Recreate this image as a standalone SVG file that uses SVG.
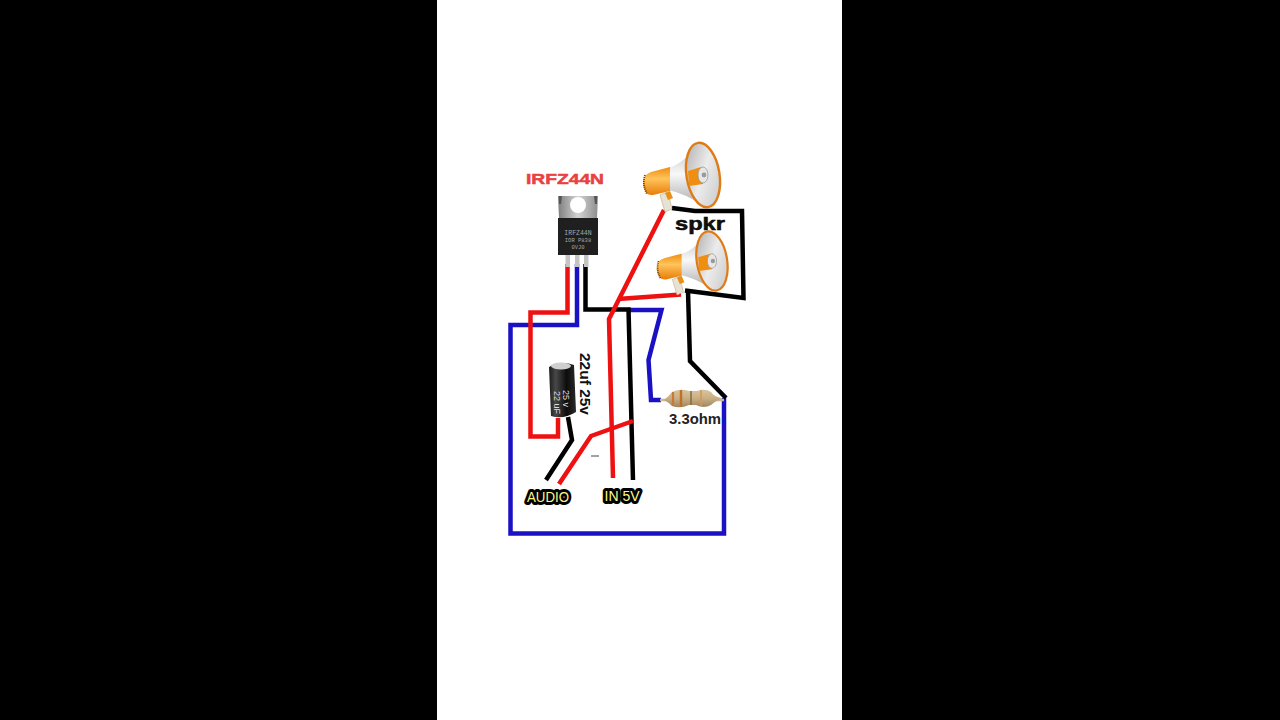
<svg xmlns="http://www.w3.org/2000/svg" width="1280" height="720" viewBox="0 0 1280 720">
<style>
.w{fill:none;stroke-linejoin:miter;stroke-linecap:butt}
.r{stroke:#ee1111;stroke-width:4.5}
.b{stroke:#1a10c4;stroke-width:4.5}
.k{stroke:#000;stroke-width:4.5}
.t{font-family:"Liberation Sans",Arial,sans-serif;font-weight:bold;fill:#111}
.lab{font-family:"Liberation Sans",Arial,sans-serif;font-size:14px;fill:#fbf98a;stroke:#000;stroke-width:6px;paint-order:stroke;stroke-linejoin:round;text-anchor:middle}
.chip{font-family:"Liberation Mono",monospace;fill:#a8a8a8;text-anchor:middle}
</style>
<defs>
<linearGradient id="og" x1="0" y1="0" x2="0" y2="1"><stop offset="0" stop-color="#f08c10"/><stop offset=".42" stop-color="#ffc45a"/><stop offset="1" stop-color="#e87c08"/></linearGradient>
<linearGradient id="gy" x1="0" y1="0" x2="1" y2="1"><stop offset="0" stop-color="#a9a9a9"/><stop offset=".5" stop-color="#ececec"/><stop offset="1" stop-color="#c4c4c4"/></linearGradient>
<linearGradient id="hn" x1="0" y1="0" x2="0" y2="1"><stop offset="0" stop-color="#c4c4c4"/><stop offset=".45" stop-color="#f8f8f8"/><stop offset="1" stop-color="#aaa"/></linearGradient>
<linearGradient id="cp" x1="0" y1="0" x2="1" y2="0"><stop offset="0" stop-color="#1c1c1c"/><stop offset=".25" stop-color="#484848"/><stop offset=".65" stop-color="#0c0c0c"/><stop offset="1" stop-color="#2a2a2a"/></linearGradient>
<linearGradient id="rs" x1="0" y1="0" x2="0" y2="1"><stop offset="0" stop-color="#d8c4a0"/><stop offset=".5" stop-color="#c9ae84"/><stop offset="1" stop-color="#9c8560"/></linearGradient>
<linearGradient id="tb" x1="0" y1="0" x2="1" y2="0"><stop offset="0" stop-color="#7e7e7e"/><stop offset=".5" stop-color="#d4d4d4"/><stop offset="1" stop-color="#8e8e8e"/></linearGradient>
<g id="horn">
<path d="M660 195L668 192L672 209L665 212Z" fill="#e8e2d5" stroke="#b9a98a" stroke-width=".6"/>
<path d="M665 193L670 191L673 198L668 200Z" fill="#e88f16"/>
<path d="M668 168Q681 165 695 148L704 206Q684 193 668 190Z" fill="url(#hn)"/>
<path d="M670 167L651 172Q642 175 643 185Q645 196 653 195L670 191Z" fill="url(#og)"/>
<path d="M645 175Q642 184 647 194" fill="none" stroke="#6a3e06" stroke-width="1.800" stroke-dasharray="1 1"/>
<ellipse cx="703" cy="175" rx="16.500" ry="32.500" transform="rotate(-9 703 175)" fill="url(#gy)" stroke="#e07a14" stroke-width="2.400"/>
<path d="M688 171L701 167L703 184L689 186Z" fill="#f08e10"/>
<ellipse cx="703" cy="175" rx="5" ry="8" fill="#e6e6e6" stroke="#999" stroke-width=".8"/>
<circle cx="704" cy="175" r="2.400" fill="#9a9a9a"/>
</g>
</defs>
<rect width="1280" height="720" fill="#000"/>
<rect x="437" width="405" height="720" fill="#fff"/>
<g id="connectors">
<path class="w b" d="M577 264V325H510.500V533.500H724V398"/>
<path class="w r" d="M567.500 264V312.500H530.500V436.500H558V418"/>
<path class="w b" d="M627 310H661.500L648.500 360L651 400H661"/>
<path class="w k" d="M585.500 264V309.500H628.500L633 480"/>
<path class="w r" d="M664 210L609 319L613 478"/>
<path class="w r" d="M618 299L681 294.500"/>
<path class="w k" d="M672 208L695 211H742L743.500 298L685 290.500"/>
<path class="w k" d="M688 291L690 361L726 398"/>
<path class="w k" d="M568 417L572 440L546 480"/>
<path class="w r" d="M559 484L591 436L633 421"/>
<path d="M591 456H599" stroke="#444" stroke-width="1" fill="none"/>
</g>
<g id="transistor">
<rect x="565.500" y="254" width="4.500" height="13" fill="#c4c4c4"/><rect x="575" y="254" width="4.500" height="13" fill="#c4c4c4"/><rect x="584" y="254" width="4.500" height="13" fill="#c4c4c4"/>
<path d="M558 196H598L597 218H559Z" fill="url(#tb)"/>
<path d="M559 196h3l-1 8h-2zM594 196h3v8h-2z" fill="#555"/>
<circle cx="578" cy="205" r="8" fill="#fff"/>
<rect x="558" y="218" width="40" height="37" fill="#1f1f1f"/>
<text class="chip" x="578" y="235" font-size="6.500">IRFZ44N</text>
<text class="chip" x="578" y="242" font-size="5.500">IOR P838</text>
<text class="chip" x="578" y="249" font-size="5.500">0VJ0</text>
</g>
<text id="irfz-label" x="565" y="184" font-family="'Liberation Sans',Arial,sans-serif" font-weight="bold" font-size="15" fill="#e8413f" stroke="#e8413f" stroke-width=".5" text-anchor="middle" textLength="78" lengthAdjust="spacingAndGlyphs">IRFZ44N</text>
<g id="speaker-1"><use href="#horn"/></g>
<g id="speaker-2"><use href="#horn" transform="translate(65.200 100) scale(.92)"/></g>
<text id="spkr-label" class="t" x="700" y="229.500" font-size="19" fill="#000" stroke="#000" stroke-width=".5" text-anchor="middle" textLength="50" lengthAdjust="spacingAndGlyphs">spkr</text>
<g id="capacitor">
<path d="M549 367Q561 360 574 365L576 412Q563 420 551 416Z" fill="url(#cp)"/>
<ellipse cx="561" cy="366" rx="10" ry="3.500" fill="#cfcfcf"/>
<text transform="translate(563 390) rotate(90)" font-family="'Liberation Sans',sans-serif" font-size="9" fill="#ddd">25 v</text>
<text transform="translate(554 391) rotate(90)" font-family="'Liberation Sans',sans-serif" font-size="9" fill="#ddd">22 uF</text>
</g>
<text id="cap-label" class="t" transform="translate(580 353) rotate(90)" font-size="14" textLength="62" lengthAdjust="spacingAndGlyphs">22uf 25v</text>
<g id="resistor">
<path d="M660 400H724" stroke="#c9b896" stroke-width="2.500" fill="none"/>
<path d="M664 400Q669 396 672 392Q680 388 689 391H697Q705 388 711 392Q714 397 722 398Q714 402 711 405Q704 409 696 405H689Q680 409 672 406Q668 402 664 400Z" fill="url(#rs)"/>
<path d="M673 392V406" stroke="#c8793a" stroke-width="2.200"/><path d="M681 390V407" stroke="#c07028" stroke-width="2.500"/><path d="M691 391V405" stroke="#8a6a3a" stroke-width="1.500"/><path d="M701 390V406" stroke="#d09a50" stroke-width="1.500"/>
</g>
<text id="res-label" x="695" y="424" font-family="'Liberation Sans',sans-serif" font-size="14" font-weight="bold" fill="#222" text-anchor="middle" textLength="52" lengthAdjust="spacingAndGlyphs">3.3ohm</text>
<text id="audio-label" class="lab" x="548" y="502" textLength="42" lengthAdjust="spacingAndGlyphs">AUDIO</text>
<text id="in5v-label" class="lab" x="622" y="501" textLength="35" lengthAdjust="spacingAndGlyphs">IN 5V</text>
</svg>
